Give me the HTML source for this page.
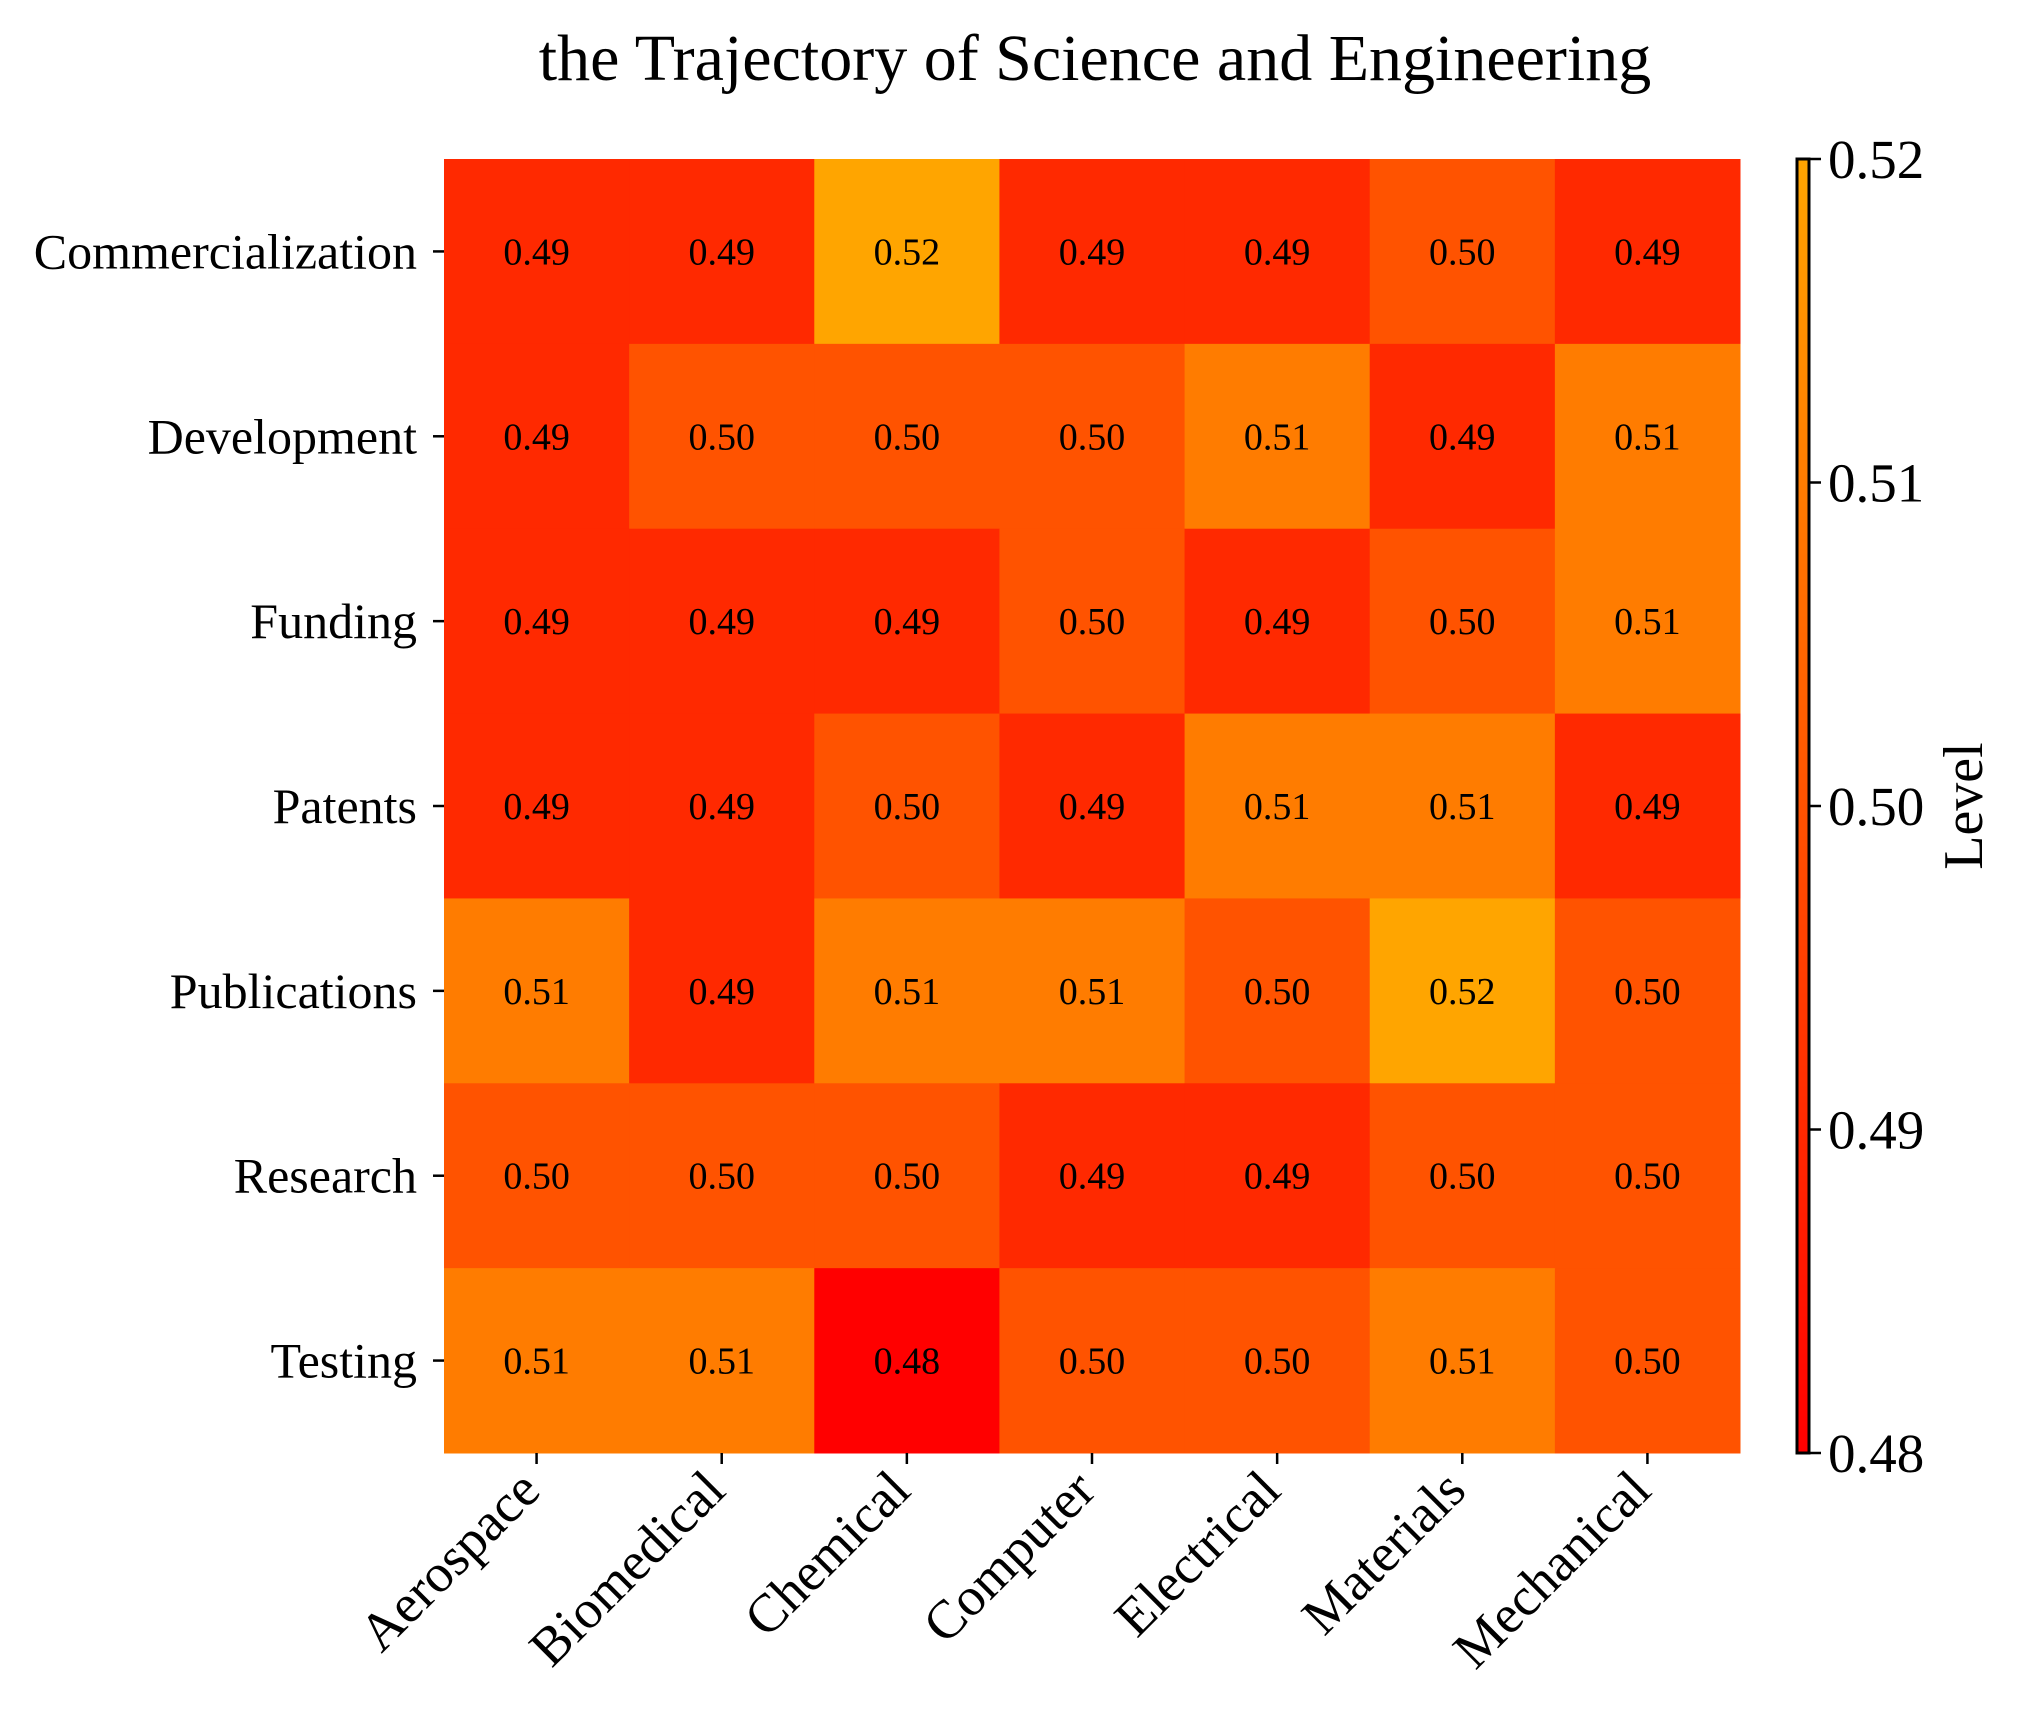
<!DOCTYPE html>
<html><head><meta charset="utf-8"><style>
html,body{margin:0;padding:0;background:#fff}
svg{display:block;font-family:"Liberation Serif","DejaVu Serif",serif}
</style></head><body>
<svg id="chart" width="2025" height="1710" viewBox="0 0 2025 1710" xmlns="http://www.w3.org/2000/svg">
<text x="1095" y="80" font-size="66" text-anchor="middle">the Trajectory of Science and Engineering</text>
<g id="cells"></g><g id="ylab"></g><g id="xlab"></g><g id="cbar"></g>
</svg>
<script>
const columns = ["Aerospace","Biomedical","Chemical","Computer","Electrical","Materials","Mechanical"];
const rows = ["Commercialization","Development","Funding","Patents","Publications","Research","Testing"];
const rowCommercialization = [0.49,0.49,0.52,0.49,0.49,0.50,0.49];
const rowDevelopment = [0.49,0.50,0.50,0.50,0.51,0.49,0.51];
const rowFunding = [0.49,0.49,0.49,0.50,0.49,0.50,0.51];
const rowPatents = [0.49,0.49,0.50,0.49,0.51,0.51,0.49];
const rowPublications = [0.51,0.49,0.51,0.51,0.50,0.52,0.50];
const rowResearch = [0.50,0.50,0.50,0.49,0.49,0.50,0.50];
const rowTesting = [0.51,0.51,0.48,0.50,0.50,0.51,0.50];
const values = [rowCommercialization,rowDevelopment,rowFunding,rowPatents,rowPublications,rowResearch,rowTesting];
const cbarTicks = [0.48,0.49,0.50,0.51,0.52];
const vmin = 0.48, vmax = 0.52;

const NS="http://www.w3.org/2000/svg";
const L=444,T=159,W=1296,H=1294;
const cw=W/columns.length, ch=H/rows.length;
const xPos=i=>L+i*cw, yPos=j=>T+j*ch;
function color(v){let t=Math.max(0,Math.min(1,(v-vmin)/(vmax-vmin)));return `rgb(255,${Math.round(165*t)},0)`;}
function mk(tag,attrs,parent,txt){const e=document.createElementNS(NS,tag);for(const k in attrs)e.setAttribute(k,attrs[k]);if(txt!==undefined)e.textContent=txt;parent.appendChild(e);return e;}
const cells=document.getElementById('cells');
values.forEach((row,j)=>row.forEach((v,i)=>{
  const r=mk('rect',{x:xPos(i),y:yPos(j),width:cw+0.5,height:ch+0.5,fill:color(v)},cells);
  
  
  const t=mk('text',{x:xPos(i)+cw/2,y:yPos(j)+ch/2+13,'font-size':38,'text-anchor':'middle'},cells,v.toFixed(2));
  
  
}));
const yl=document.getElementById('ylab');
rows.forEach((r,j)=>{
  const cy=yPos(j)+ch/2;
  mk('line',{x1:L-11,x2:L,y1:cy,y2:cy,stroke:'#000','stroke-width':2.5},yl);
  const t=mk('text',{x:L-27,y:cy+17,'font-size':50,'text-anchor':'end'},yl,r);
  
  
});
const xl=document.getElementById('xlab');
const B=T+H;
columns.forEach((c,i)=>{
  const cx=xPos(i)+cw/2;
  mk('line',{x1:cx,x2:cx,y1:B,y2:B+11,stroke:'#000','stroke-width':2.5},xl);
  const t=mk('text',{x:cx+6,y:B+40,'font-size':54,'text-anchor':'end',transform:`rotate(-45 ${cx+6} ${B+40})`},xl,c);
  
  
});
const cb=document.getElementById('cbar');
const defs=mk('defs',{},cb);
const g=mk('linearGradient',{id:'cg',x1:0,y1:1,x2:0,y2:0},defs);
mk('stop',{offset:'0','stop-color':color(vmin)},g);
mk('stop',{offset:'1','stop-color':color(vmax)},g);
const CX=1797,CW=12;
const bar=mk('rect',{x:CX,y:T,width:CW,height:H,fill:'url(#cg)',stroke:'#000','stroke-width':3},cb);


const cy=v=>T+H-(v-vmin)/(vmax-vmin)*H;
cbarTicks.forEach(v=>{
  mk('line',{x1:CX+CW,x2:CX+CW+12,y1:cy(v),y2:cy(v),stroke:'#000','stroke-width':2.5},cb);
  const t=mk('text',{x:CX+CW+19,y:cy(v)+19,'font-size':55},cb,v.toFixed(2));
  
  
});
const lv=mk('text',{x:1982,y:T+H/2,'font-size':56,'text-anchor':'middle',transform:`rotate(-90 1982 ${T+H/2})`},cb,'Level');


</script>
</body></html>
